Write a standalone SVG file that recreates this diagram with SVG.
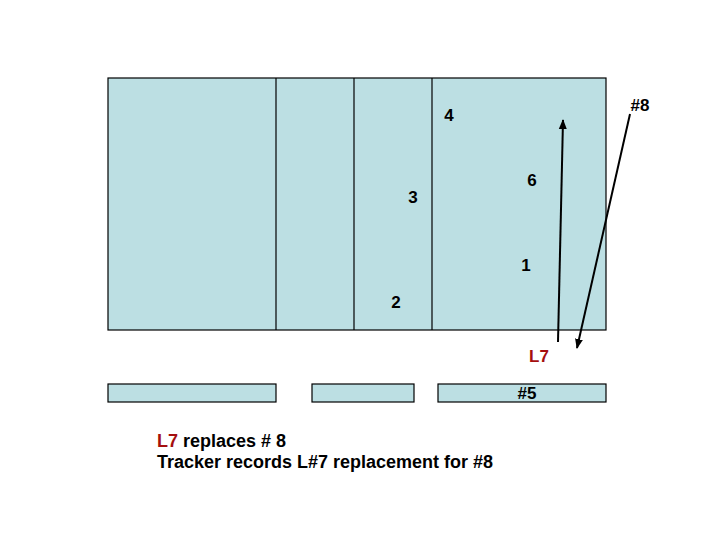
<svg xmlns="http://www.w3.org/2000/svg" width="720" height="540" viewBox="0 0 720 540">
<defs>
<style>
.box{fill:#bcdfe3;stroke:#000;stroke-width:1.2}
.t{font-family:"Liberation Sans",Arial,sans-serif;font-weight:bold;font-size:17px;fill:#000}
.b{font-size:18px}
.r{fill:#a50f0f}
.c{stroke:#000;stroke-width:2;fill:none}
</style>
<marker id="ah" viewBox="0 0 10 10" refX="9" refY="5" markerWidth="5" markerHeight="5" orient="auto-start-reverse" markerUnits="strokeWidth">
<path d="M0,1 L10,5 L0,9 Z" fill="#000"/>
</marker>
</defs>
<rect width="720" height="540" fill="#fff"/>
<g id="main">
<rect class="box" x="108" y="78" width="498" height="252"/>
<line x1="276" y1="78" x2="276" y2="330" stroke="#000" stroke-width="1.2"/>
<line x1="354" y1="78" x2="354" y2="330" stroke="#000" stroke-width="1.2"/>
<line x1="432" y1="78" x2="432" y2="330" stroke="#000" stroke-width="1.2"/>
</g>
<g id="bar1"><rect class="box" x="108" y="384" width="168" height="18"/></g>
<g id="bar2"><rect class="box" x="312" y="384" width="102" height="18"/></g>
<g id="bar3"><rect class="box" x="438" y="384" width="168" height="18"/><text class="t" x="527" y="399" text-anchor="middle">#5</text></g>
<g id="labels">
<text class="t" x="449" y="121" text-anchor="middle">4</text>
<text class="t" x="413" y="203" text-anchor="middle">3</text>
<text class="t" x="532" y="186" text-anchor="middle">6</text>
<text class="t" x="526" y="271" text-anchor="middle">1</text>
<text class="t" x="396" y="308" text-anchor="middle">2</text>
<text class="t r" x="539" y="362" text-anchor="middle">L7</text>
<text class="t" x="640" y="111" text-anchor="middle">#8</text>
<text class="t b" x="157" y="447"><tspan class="r">L7</tspan> replaces # 8</text>
<text class="t b" x="157" y="468" textLength="336" lengthAdjust="spacingAndGlyphs">Tracker records L#7 replacement for #8</text>
</g>
<g id="connectors">
<line class="c" x1="558" y1="342" x2="563" y2="120" marker-end="url(#ah)"/>
<line class="c" x1="630" y1="114" x2="577" y2="348" marker-end="url(#ah)"/>
</g>
</svg>
